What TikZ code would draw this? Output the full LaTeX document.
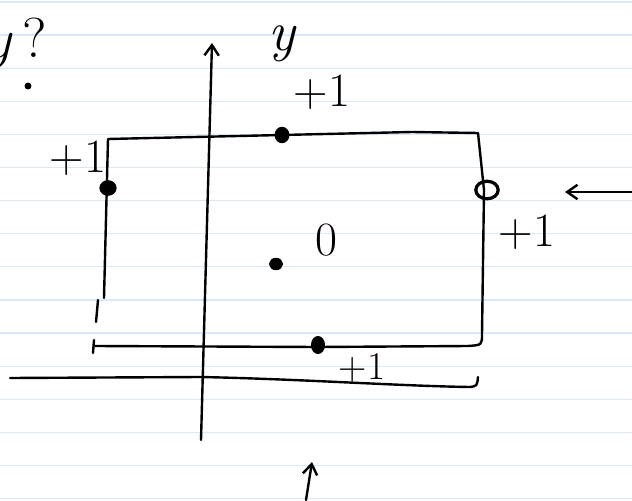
\documentclass[tikz,border=0pt]{standalone}
\usepackage{tikz}
\usetikzlibrary{arrows.meta,positioning,shapes.geometric}

\definecolor{ruled}{RGB}{214,234,250}

\begin{document}
\begin{tikzpicture}[
  x=0.25mm,
  y=-0.25mm,
  ink/.style={
    line width=0.6mm,
    line cap=round,
    line join=round
  },
  arr/.style={
    ink,
    -{Straight Barb[length=2.6mm,width=3.6mm,line width=0.6mm]}
  },
  hand/.style={
    inner sep=0pt,
    font=\fontsize{34}{34}\selectfont
  },
  blob/.style={
    ellipse,
    draw,
    fill=black,
    line width=0.5mm,
    inner sep=0pt,
    minimum width=3mm,
    minimum height=3mm
  },
  ring/.style={
    ellipse,
    draw,
    line width=0.8mm,
    inner sep=0pt,
    minimum width=5.6mm,
    minimum height=4.4mm
  }
]
\useasboundingbox (0,0) rectangle (632,500);
\fill[white] (0,0) rectangle (632,500);
% ruled paper
\foreach \k in {0,...,15}
  \draw[ruled, line width=0.3mm] (0,{2+33.1*\k}) -- (632,{2+33.1*\k});

% axes
\coordinate (vlo) at (201,440);
\coordinate (vhi) at (212,43);
\draw[arr] (vlo) -- (vhi);
\coordinate (hlo) at (10,378);
\coordinate (hhi) at (470,387);
\coordinate (hook) at (478,377);
\draw[ink]
  (hlo) -- (200,377)
  .. controls (300,379) and (400,386) .. (hhi)
  .. controls (477,386) .. (hook);

% box
\coordinate (tl) at (108,139);
\coordinate (tr) at (478,133);
\coordinate (bl) at (95,346);
\coordinate (br) at (482,334);
\draw[ink] (104,298) -- (tl) -- (412,132) -- (tr) -- (484,190) -- (br)
  .. controls (482,345) .. (468,346) -- (318,347) -- (bl);
\draw[ink] (98,300) -- (96,322);
\draw[ink] (94,340) -- (93,353);

% points
\node[blob, minimum width=3.2mm, minimum height=3.6mm] (ptop) at (282,135) {};
\node[blob, minimum width=3.8mm, minimum height=3.4mm] (pleft) at (108,188) {};
\node[ring] (pright) at (487,190) {};
\node[blob, minimum width=3mm, minimum height=4mm] (pbot) at (318,345) {};
\node[blob, minimum width=3mm, minimum height=2.6mm] (pmid) at (276,264) {};

% labels
\node[hand] (zero) at (326,240) {0};
\node[hand] (ltop) at (322,92) {+1};
\node[hand] (lleft) at (78,158) {+1};
\node[hand] (lright) at (527,232) {+1};
\node[hand, font=\fontsize{28}{28}\selectfont] (lbot) at (362,368) {+1};
\node[hand, font=\fontsize{40}{40}\selectfont\itshape] (ylab) at (282,44) {y};
\node[hand, font=\fontsize{40}{40}\selectfont, anchor=east] (ask) at (47,44)
  {\textit{y}\,?};
\node[blob, minimum width=1.2mm, minimum height=1.2mm] (stop) at (28,86) {};

% pushes
\coordinate (rin) at (632,192);
\coordinate (rtip) at (565,192);
\draw[arr] (rin) -- (rtip);
\coordinate (bin) at (306,500);
\coordinate (btip) at (312,462);
\draw[arr] (bin) -- (btip);
\end{tikzpicture}
\end{document}
